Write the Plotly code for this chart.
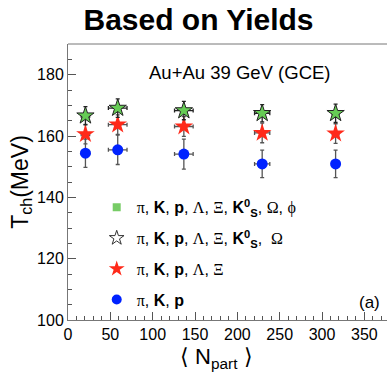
import plotly.graph_objects as go

npart = [20.6, 58.7, 136.8, 229.3, 316.0]
npart_err = [5, 11, 11, 9, 4]

t_all = [166.6, 169.1, 168.3, 167.4, 167.4]      # pi,K,p,Lambda,Xi,K0S,Omega,phi
t_all_err = [3.0, 3.0, 3.0, 2.8, 3.0]
t_noPhi = [166.6, 169.1, 168.3, 167.4, 167.4]    # pi,K,p,Lambda,Xi,K0S,Omega
t_noPhi_err = [3.0, 3.0, 3.0, 2.8, 3.0]
t_lx = [160.6, 163.7, 163.1, 161.0, 160.8]       # pi,K,p,Lambda,Xi
t_lx_err = [3.2, 3.2, 3.2, 3.2, 3.2]
t_kp = [154.4, 155.5, 154.1, 150.9, 150.9]       # pi,K,p
t_kp_err = [4.6, 4.8, 4.9, 4.5, 4.5]

G = lambda s: f'<span style="font-family:Liberation Serif">{s}</span>'
B = lambda s: f'<b>{s}</b>'
K0S = B('K') + '<sup>' + B('0') + '</sup><sub>' + B('S') + '</sub>'
labels = [
    f"{G('π')}, {B('K')}, {B('p')}, {G('Λ')}, {G('Ξ')}, {K0S}, {G('Ω')}, {G('ϕ')}",
    f"{G('π')}, {B('K')}, {B('p')}, {G('Λ')}, {G('Ξ')}, {K0S},  {G('Ω')}",
    f"{G('π')}, {B('K')}, {B('p')}, {G('Λ')}, {G('Ξ')}",
    f"{G('π')}, {B('K')}, {B('p')}",
]

fig = go.Figure()

def ebar(err, col):
    return dict(type='data', array=err, visible=True, color=col, thickness=1.3, width=2)

# data traces
fig.add_trace(go.Scatter(x=npart, y=t_kp, mode='markers', showlegend=False,
    marker=dict(symbol='circle', size=11, color='#0022ff'),
    error_x=ebar(npart_err, '#555555'), error_y=ebar(t_kp_err, '#555555')))
fig.add_trace(go.Scatter(x=npart, y=t_lx, mode='markers', showlegend=False,
    marker=dict(symbol='star', size=14, color='#ff2a1a', line=dict(width=0)),
    error_x=ebar(npart_err, '#555555'), error_y=ebar(t_lx_err, '#555555')))
fig.add_trace(go.Scatter(x=npart, y=t_all, mode='markers', showlegend=False,
    marker=dict(symbol='star', size=13, color='#66cc55', line=dict(width=0)),
    error_x=ebar(npart_err, '#222222'), error_y=ebar(t_all_err, '#222222')))
fig.add_trace(go.Scatter(x=npart, y=t_noPhi, mode='markers', showlegend=False,
    marker=dict(symbol='star-open', size=13, color='#222222', line=dict(width=1))))

# legend entries
leg_markers = [
    dict(symbol='square', size=8, color='#77cc66', line=dict(width=0)),
    dict(symbol='star-open', size=11, color='#333333', line=dict(width=1)),
    dict(symbol='star', size=12, color='#ff2a1a', line=dict(width=0)),
    dict(symbol='circle', size=10, color='#0022ff'),
]
for i, (lab, mk) in enumerate(zip(labels, leg_markers)):
    fig.add_trace(go.Scatter(x=[None], y=[None], mode='markers', name=lab,
        marker=mk, legendgroup=f'g{i}', showlegend=True))

fig.update_layout(
    width=387, height=372,
    margin=dict(l=68, r=0, t=44, b=52),
    paper_bgcolor='white', plot_bgcolor='white',
    font=dict(family='Liberation Sans', color='black', size=16),
    title=dict(text='<b>Based on Yields</b>', x=0.513, xanchor='center', y=0.948, yanchor='middle',
               font=dict(size=30, family='Liberation Sans', color='black')),
    showlegend=True,
    legend=dict(x=0.09, y=0.47, xanchor='left', yanchor='top', bgcolor='rgba(255,255,255,0)',
                font=dict(size=16), tracegroupgap=7, itemwidth=30),
    xaxis=dict(range=[0, 376.7], showgrid=False, zeroline=False, showline=True,
               linecolor='#777777', linewidth=1, ticks='inside', ticklen=8, tickcolor='#555555',
               dtick=50, tick0=0, tickfont=dict(size=16),
               minor=dict(ticks='inside', ticklen=4, dtick=10, tickcolor='#555555')),
    yaxis=dict(range=[100, 190], showgrid=False, zeroline=False, showline=True,
               linecolor='#777777', linewidth=1, ticks='inside', ticklen=8, tickcolor='#555555',
               tickvals=[100, 120, 140, 160, 180], tickfont=dict(size=16),
               minor=dict(ticks='inside', ticklen=4, dtick=5, tickcolor='#555555'),
               title=dict(text='T<sub>ch</sub>(MeV)', font=dict(size=23), standoff=2)),
    shapes=[dict(type='line', xref='paper', yref='paper', x0=0, x1=1, y0=1, y1=1,
                 line=dict(color='#777777', width=1))],
    annotations=[
        dict(text='⟨ N<sub>part</sub> ⟩', xref='paper', yref='paper', x=0.467, y=-0.078,
             xanchor='center', yanchor='top', showarrow=False, font=dict(size=22)),
        dict(text='Au+Au 39 GeV (GCE)', xref='paper', yref='paper', x=0.54, y=0.895,
             xanchor='center', yanchor='middle', showarrow=False, font=dict(size=18.5)),
        dict(text='(a)', xref='paper', yref='paper', x=0.984, y=0.065,
             xanchor='right', yanchor='middle', showarrow=False, font=dict(size=17)),
    ],
)

fig.write_html("out.html")
